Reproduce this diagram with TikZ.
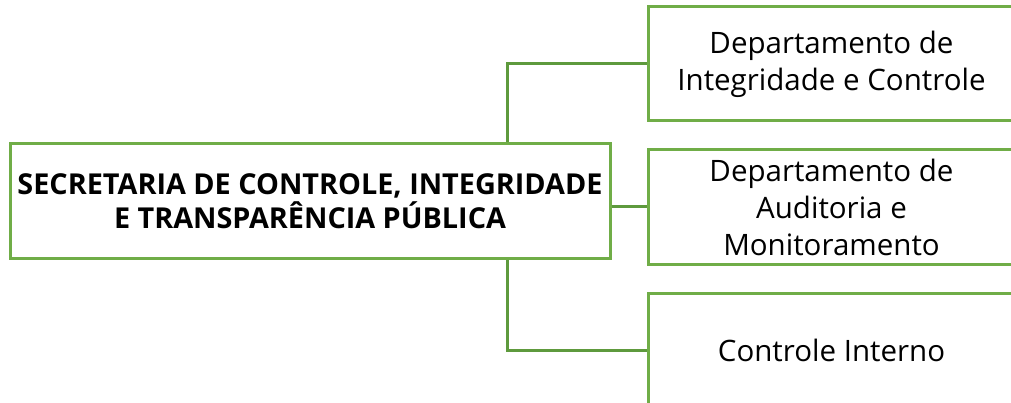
\documentclass[tikz,border=0pt]{standalone}
\usepackage{fontspec}
\setmainfont{Open Sans}
\definecolor{boxgreen}{HTML}{70AD47}
\definecolor{linegreen}{HTML}{5E9A3D}
\begin{document}
\begin{tikzpicture}[x=1pt,y=-1pt,
  box/.style={draw=boxgreen,line width=3pt,fill=white,align=center,inner sep=0pt,minimum height=114pt,text=black},
  mainbox/.style={box,minimum width=600pt,font=\fontsize{28.8}{34}\selectfont\bfseries},
  deptbox/.style={box,minimum width=367pt,font=\fontsize{29.5}{37}\selectfont},
  conn/.style={draw=linegreen,line width=3pt}]
\useasboundingbox (0,0) rectangle (1011,403);
\clip (0,0) rectangle (1011,403);
\node[mainbox] (main) at (310,201) {SECRETARIA DE CONTROLE, INTEGRIDADE\\E TRANSPARÊNCIA PÚBLICA};
\node[deptbox] (d1) at (831.5,64) {Departamento de\\Integridade e Controle};
\node[deptbox] (d2) at (831.5,207) {Departamento de\\Auditoria e\\Monitoramento};
\node[deptbox] (d3) at (831.5,350) {Controle Interno};
\draw[conn] ([xshift=197pt]main.north) |- (d1.west);
\draw[conn] (main.east |- d2.west) -- (d2.west);
\draw[conn] ([xshift=197pt]main.south) |- (d3.west);
\end{tikzpicture}
\end{document}
